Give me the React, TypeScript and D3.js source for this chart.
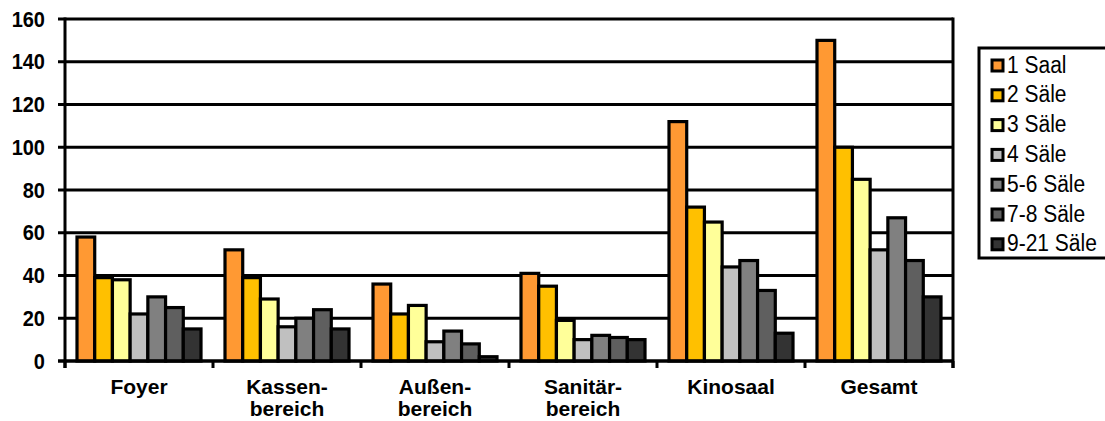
import React from "react";
import * as d3 from "d3";

const categories = [["Foyer"], ["Kassen-", "bereich"], ["Außen-", "bereich"], ["Sanitär-", "bereich"], ["Kinosaal"], ["Gesamt"]];
const categoryKeys = ["Foyer", "Kassenbereich", "Außenbereich", "Sanitärbereich", "Kinosaal", "Gesamt"];
const seriesNames = ["1 Saal", "2 Säle", "3 Säle", "4 Säle", "5-6 Säle", "7-8 Säle", "9-21 Säle"];
const seriesColors = ["#FF9933", "#FFC000", "#FFFF99", "#C0C0C0", "#808080", "#5F5F5F", "#333333"];
const s1 = [58, 52, 36, 41, 112, 150];
const s2 = [39, 39, 22, 35, 72, 100];
const s3 = [38, 29, 26, 19, 65, 85];
const s4 = [22, 16, 9, 10, 44, 52];
const s5 = [30, 20, 14, 12, 47, 67];
const s6 = [25, 24, 8, 11, 33, 47];
const s7 = [15, 15, 2, 10, 13, 30];
const seriesValues = [s1, s2, s3, s4, s5, s6, s7];
const yTicks = [0, 20, 40, 60, 80, 100, 120, 140, 160];

const W = 1105, H = 421;
const left = 65, right = 953, top = 19, bottom = 361;

export default function App() {
  const y = d3.scaleLinear().domain([0, 160]).range([bottom, top]);
  const x0 = d3.scaleBand<string>().domain(categoryKeys).range([left, right]);
  const bw = x0.bandwidth();
  const x1 = d3.scaleBand<string>().domain(seriesNames).range([12, bw - 12]);
  const font = "'Liberation Sans', Arial, sans-serif";
  const boundaries = [...categoryKeys.map((c) => x0(c) as number), right];
  const sy = 1.1;

  return (
    <svg width={W} height={H} style={{ position: "absolute", left: 0, top: 0, background: "#fff" }} fontFamily={font}>
      {/* gridlines */}
      {yTicks.map((t) => (
        <line key={"g" + t} x1={left - 7} x2={right} y1={y(t)} y2={y(t)} stroke="#000" strokeWidth={3} />
      ))}
      {/* bars */}
      {categoryKeys.map((c, ci) => (
        <g key={c} transform={`translate(${x0(c)},0)`}>
          {seriesNames.map((s, si) => {
            const v = seriesValues[si][ci];
            return (
              <rect
                key={s}
                x={x1(s)}
                y={y(v)}
                width={x1.bandwidth()}
                height={y(0) - y(v)}
                fill={seriesColors[si]}
                stroke="#000"
                strokeWidth={3.2}
              />
            );
          })}
        </g>
      ))}
      {/* axes */}
      <line x1={left} x2={left} y1={top - 1.5} y2={bottom + 7} stroke="#000" strokeWidth={3} />
      <line x1={right} x2={right} y1={top - 1.5} y2={bottom + 7} stroke="#000" strokeWidth={3} />
      <line x1={left - 7} x2={right} y1={bottom} y2={bottom} stroke="#000" strokeWidth={3} />
      {boundaries.map((b, i) => (
        <line key={"t" + i} x1={b} x2={b} y1={bottom} y2={bottom + 7} stroke="#000" strokeWidth={3} />
      ))}
      {/* y labels */}
      {yTicks.map((t) => (
        <text
          key={"l" + t}
          transform={`translate(45,${y(t) + 7.5}) scale(1,${sy})`}
          textAnchor="end"
          fontSize={20}
          fontWeight="bold"
        >
          {t}
        </text>
      ))}
      {/* x labels */}
      {categoryKeys.map((c, ci) => (
        <text key={"x" + c} textAnchor="middle" fontSize={21} fontWeight="bold">
          {categories[ci].map((line, li) => (
            <tspan key={li} x={(x0(c) as number) + bw / 2} y={394 + li * 22}>
              {line}
            </tspan>
          ))}
        </text>
      ))}
      {/* legend */}
      <rect x={979} y={48} width={140} height={210} fill="#fff" stroke="#000" strokeWidth={3} />
      {seriesNames.map((s, si) => {
        const cy = 65.5 + si * 29.8;
        return (
          <g key={"lg" + s}>
            <rect x={992} y={cy - 5.5} width={11} height={11} fill={seriesColors[si]} stroke="#000" strokeWidth={3} />
            <text transform={`translate(1007,${cy + 7}) scale(1,${sy})`} fontSize={21}>
              {s}
            </text>
          </g>
        );
      })}
    </svg>
  );
}
